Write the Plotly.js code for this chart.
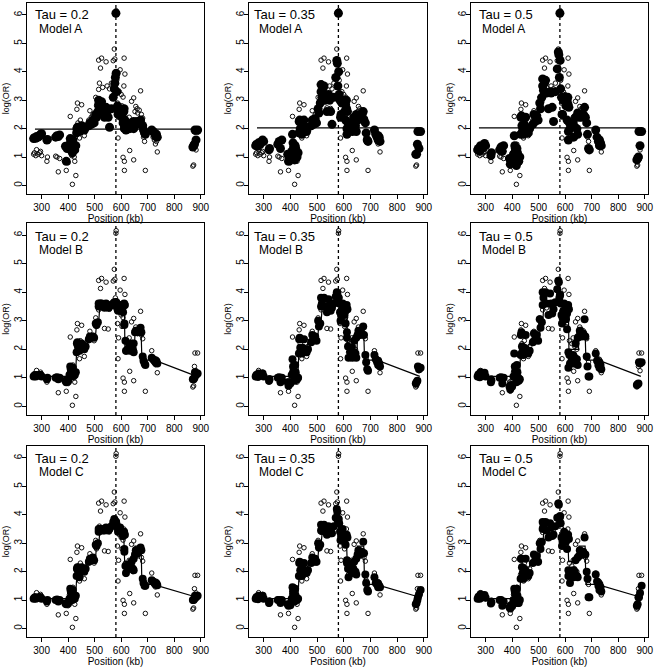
<!DOCTYPE html>
<html>
<head>
<meta charset="utf-8">
<script src="https://cdn.plot.ly/plotly-3.0.1.min.js"></script>
<style>html,body{margin:0;padding:0;background:#fff;}#chart{width:655px;height:668px;}</style>
</head>
<body>
<div id="chart"></div>
<script>
// Marker positions (kb) and observed log(OR) — shared by all panels (open circles)
const positions = [
  270,273,278,281,287,293,296,300,320,322,
  353,358,363,368,390,393,396,400,
  405,408,410,412,414,416,418,420,423,425,429,
  432,433,435,437,440,443,446,451,455,461,466,
  478,482,487,493,498,504,507,512,515,515,518,522,526,530,
  537,543,547,551,556,563,570,574,576,578,580,581,583,
  586,588,590,593,596,600,603,607,607,610,611,612,612,614,616,618,
  625,630,632,636,639,644,647,647,652,655,660,662,668,673,676,681,684,688,691,
  715,720,725,729,729,733,736,
  870,873,876,878,882,888
];
const observed = [
  1.10,1.15,1.05,1.26,1.10,1.15,1.20,1.05,0.85,1.00,
  1.03,1.00,0.48,0.95,0.85,0.53,0.88,0.80,
  1.20,2.43,1.40,1.30,1.05,0.04,1.45,1.20,1.00,0.85,0.35,
  1.90,2.68,2.90,2.20,2.00,1.67,2.30,2.84,2.00,1.75,2.10,
  2.30,2.63,2.40,2.49,2.30,3.10,2.80,2.95,3.38,4.41,3.60,4.13,4.48,3.45,
  2.73,4.35,3.50,2.71,3.40,3.60,4.39,4.80,4.45,3.80,6.06,6.15,3.70,
  2.90,1.67,2.40,3.30,4.07,3.20,2.80,3.11,0.99,3.50,4.48,0.85,0.53,3.92,2.30,1.90,
  2.20,2.40,1.23,2.10,2.96,2.00,3.08,0.90,2.60,2.78,2.70,2.55,2.65,3.33,2.50,2.37,1.70,1.55,0.53,
  1.95,1.70,1.60,1.65,1.46,1.55,1.18,
  0.68,0.72,1.40,1.87,1.25,1.87
];

// Fitted values (filled circles), one array per panel
const fitA_tau020 = [
  1.65,1.68,1.66,1.72,1.70,1.75,1.80,1.82,1.60,1.62,
  1.70,1.75,1.72,1.78,1.38,0.85,1.30,1.40,
  1.35,1.65,1.55,1.45,1.30,1.15,1.60,1.45,1.35,1.25,1.40,
  1.85,2.00,2.05,1.95,2.00,1.90,2.05,2.10,2.00,1.95,2.05,
  2.10,2.20,2.15,2.30,2.20,2.50,2.40,2.60,2.85,3.00,2.70,2.90,2.95,2.55,
  2.40,2.75,2.60,2.40,2.05,2.70,3.10,3.40,3.60,3.80,6.06,3.95,3.30,
  2.80,2.50,2.60,2.70,2.65,2.50,2.40,2.35,2.20,2.60,2.70,2.10,2.00,2.30,2.00,1.95,
  2.05,2.10,2.00,2.05,2.20,2.10,2.25,2.00,2.15,2.20,2.25,2.15,2.20,2.30,2.15,2.10,1.95,1.85,1.80,
  1.95,1.90,1.85,1.80,1.75,1.80,1.70,
  1.35,1.40,1.45,1.95,1.60,1.95
];
const fitA_tau035 = [
  1.40,1.45,1.38,1.50,1.45,1.55,1.60,1.55,1.25,1.30,
  1.45,1.55,1.30,1.60,1.10,0.85,1.00,0.95,
  1.20,1.80,1.50,1.35,1.10,0.90,1.40,1.30,1.05,1.00,1.15,
  1.85,2.25,2.30,2.00,1.95,1.80,2.10,2.30,2.00,1.90,2.05,
  2.10,2.30,2.15,2.35,2.20,2.70,2.55,2.90,3.30,3.55,3.10,3.40,3.50,3.00,
  2.60,3.20,3.00,2.60,2.15,3.10,3.80,4.40,4.30,3.50,6.06,4.00,3.20,
  3.00,2.40,2.50,2.90,3.00,2.90,2.60,2.85,2.30,3.00,2.70,2.00,1.80,2.60,2.20,2.00,
  2.10,2.20,1.90,2.05,2.40,2.10,2.50,1.90,2.30,2.40,2.45,2.35,2.40,2.60,2.30,2.20,1.85,1.60,1.55,
  1.95,1.80,1.70,1.75,1.60,1.70,1.55,
  1.10,1.10,1.45,1.90,1.30,1.90
];
const fitA_tau050 = [
  1.25,1.30,1.22,1.40,1.30,1.40,1.48,1.40,1.05,1.15,
  1.25,1.35,1.20,1.40,0.95,0.75,0.90,0.85,
  1.10,1.75,1.40,1.30,1.00,0.70,1.30,1.15,0.95,0.85,1.00,
  1.80,2.40,2.45,2.10,2.00,1.80,2.15,2.40,1.95,1.85,2.00,
  2.15,2.50,2.25,2.45,2.30,2.90,2.70,3.10,3.50,3.75,3.35,3.60,3.70,3.25,
  2.70,3.30,3.25,2.75,2.25,3.30,4.10,4.70,4.60,3.80,6.06,4.40,3.40,
  3.10,2.50,2.50,3.00,3.10,3.05,2.80,3.00,2.30,3.10,2.85,1.90,1.60,2.75,2.20,2.00,
  2.10,2.20,1.70,2.05,2.40,2.00,2.55,1.80,2.40,2.50,2.50,2.40,2.50,2.75,2.40,2.20,1.80,1.30,1.25,
  1.95,1.70,1.55,1.60,1.40,1.50,1.40,
  0.90,0.95,1.00,1.90,1.40,1.90
];
const fitB_tau020 = [
  1.05,1.08,1.05,1.10,1.08,1.10,1.10,1.05,0.95,1.00,
  1.00,1.02,0.95,1.00,0.90,0.85,0.90,0.88,
  1.10,1.40,1.30,1.25,1.15,1.05,1.35,1.20,1.15,1.10,1.20,
  1.90,2.20,2.25,2.10,2.05,1.95,2.15,2.20,2.05,2.00,2.10,
  2.35,2.45,2.40,2.45,2.40,2.90,2.85,2.95,3.50,3.60,3.55,3.60,3.60,3.50,
  3.45,3.60,3.55,3.45,3.50,3.55,3.60,3.65,3.60,3.55,3.65,3.65,3.50,
  3.40,3.35,3.40,3.50,3.55,3.50,3.45,3.50,3.30,3.55,3.60,2.90,2.85,3.55,2.30,1.95,
  2.00,2.10,1.95,2.05,2.20,2.00,2.20,1.90,2.60,2.65,2.65,2.60,2.65,2.75,2.60,1.75,1.60,1.50,1.45,
  1.70,1.65,1.60,1.62,1.55,1.58,1.50,
  0.95,0.95,1.00,1.20,1.10,1.15
];
const fitB_tau035 = [
  1.05,1.10,1.03,1.15,1.08,1.12,1.15,1.05,0.90,0.95,
  1.00,1.02,0.85,1.00,0.85,0.72,0.85,0.80,
  1.10,1.65,1.40,1.25,1.05,0.90,1.45,1.20,1.05,0.95,1.00,
  1.85,2.35,2.40,2.05,1.95,1.85,2.05,2.35,1.95,1.90,2.00,
  2.25,2.50,2.35,2.45,2.30,3.00,2.80,2.90,3.50,3.80,3.60,3.75,3.80,3.50,
  3.30,3.75,3.55,3.35,3.45,3.60,3.85,4.00,3.95,3.70,3.80,3.80,3.60,
  3.30,3.00,3.20,3.40,3.60,3.35,3.20,3.35,2.90,3.45,3.55,2.60,2.40,3.40,2.10,1.70,
  1.90,2.05,1.70,1.90,2.30,1.85,2.40,1.70,2.50,2.65,2.60,2.50,2.55,2.80,2.50,1.80,1.55,1.30,1.25,
  1.80,1.65,1.55,1.60,1.45,1.50,1.40,
  0.80,0.85,0.90,1.40,1.30,1.35
];
const fitB_tau050 = [
  1.05,1.12,1.02,1.20,1.08,1.15,1.18,1.05,0.85,0.92,
  1.00,1.02,0.80,1.00,0.70,0.60,0.75,0.70,
  1.05,1.85,1.40,1.25,1.00,0.85,1.45,1.20,1.00,0.90,0.95,
  1.80,2.50,2.60,2.10,1.95,1.80,2.05,2.50,1.90,1.85,1.95,
  2.25,2.55,2.35,2.50,2.30,3.05,2.75,2.95,3.55,4.00,3.80,3.95,4.00,3.60,
  3.20,3.95,3.60,3.25,3.40,3.65,4.10,4.40,4.35,3.80,3.90,3.90,3.60,
  3.20,2.90,3.10,3.35,3.60,3.30,3.05,3.25,2.70,3.45,3.55,1.90,1.35,3.40,1.80,1.50,
  1.65,1.80,1.50,1.70,2.20,1.65,2.40,1.45,2.45,2.65,2.55,2.45,2.55,3.05,2.45,1.75,1.40,1.05,1.05,
  1.85,1.60,1.45,1.55,1.35,1.45,1.30,
  0.75,0.78,0.80,1.55,1.50,1.55
];
const fitC_tau020 = [
  1.05,1.08,1.05,1.10,1.08,1.10,1.10,1.05,0.95,1.00,
  1.00,1.02,0.95,1.00,0.88,0.85,0.90,0.88,
  1.05,1.40,1.30,1.25,1.15,1.00,1.35,1.20,1.10,1.05,1.15,
  1.85,2.10,2.15,2.05,2.00,1.80,2.10,2.15,2.05,2.00,2.10,
  2.35,2.45,2.40,2.50,2.40,2.95,2.90,3.00,3.40,3.50,3.45,3.50,3.50,3.45,
  3.45,3.55,3.50,3.45,3.50,3.60,3.75,3.85,3.80,3.70,3.75,3.75,3.65,
  3.55,3.40,3.45,3.50,3.55,3.40,3.35,3.35,3.25,3.35,3.40,2.80,2.70,3.30,2.20,1.95,
  2.15,2.25,2.10,2.20,2.35,2.10,2.45,2.05,2.60,2.75,2.70,2.65,2.75,2.85,2.75,1.75,1.60,1.50,1.50,
  1.70,1.65,1.60,1.62,1.55,1.58,1.52,
  1.00,1.00,1.05,1.15,1.10,1.15
];
const fitC_tau035 = [
  1.05,1.10,1.03,1.15,1.08,1.12,1.15,1.05,0.90,0.95,
  1.00,1.00,0.90,1.00,0.85,0.80,0.85,0.82,
  1.05,1.45,1.30,1.20,1.05,0.95,1.40,1.15,1.05,1.00,1.05,
  1.85,2.30,2.35,2.05,1.95,1.85,2.10,2.30,2.00,1.95,2.05,
  2.30,2.50,2.35,2.45,2.35,3.00,2.85,2.95,3.45,3.65,3.50,3.60,3.65,3.40,
  3.30,3.60,3.50,3.35,3.35,3.60,3.90,4.20,4.10,3.80,3.85,3.85,3.70,
  3.40,3.10,3.25,3.40,3.50,3.30,3.15,3.20,2.95,3.25,3.30,2.40,2.30,3.20,2.10,1.80,
  2.05,2.20,1.95,2.10,2.35,2.00,2.45,1.90,2.60,2.75,2.70,2.60,2.70,3.05,2.65,1.90,1.60,1.35,1.30,
  1.80,1.60,1.55,1.58,1.45,1.50,1.45,
  0.85,0.90,1.00,1.10,1.20,1.35
];
const fitC_tau050 = [
  1.05,1.12,1.05,1.20,1.10,1.15,1.18,1.08,0.88,0.92,
  1.00,1.00,0.80,0.95,0.75,0.70,0.80,0.78,
  1.00,1.40,1.30,1.20,1.00,0.90,1.40,1.15,0.95,0.90,1.00,
  1.75,2.45,2.45,2.15,1.95,1.75,2.10,2.45,1.90,1.85,1.95,
  2.30,2.60,2.40,2.55,2.35,3.00,2.80,3.05,3.50,3.75,3.60,3.70,3.75,3.45,
  3.20,3.70,3.55,3.25,3.30,3.60,3.90,4.40,4.35,3.85,3.95,3.95,3.70,
  3.20,2.90,3.05,3.25,3.40,3.20,3.05,3.15,2.80,3.20,3.30,2.05,1.85,3.15,1.85,1.60,
  1.85,2.05,1.80,2.00,2.40,1.85,2.50,1.80,2.55,2.75,2.70,2.60,2.70,3.20,2.60,2.00,1.75,1.10,1.10,
  1.90,1.65,1.50,1.55,1.35,1.45,1.30,
  0.80,0.85,1.10,1.10,1.25,1.50
];

// Model mean curves
const modelALevel = [1.98, 2.03, 2.03];      // constant mean for Model A (per tau)
const modelASpan = [275, 890];
const modelBLineX = [270,405,428,432,460,470,503,507,515,520,612,614,650,652,675,678,725,885];
const modelBLineY = [1.05,1.05,1.05,1.95,2.05,2.35,2.45,2.90,2.95,3.55,3.55,2.00,2.00,2.62,2.62,1.62,1.62,1.05];
const modelCLineX = [270,405,428,432,460,470,503,507,515,520,545,580,610,613,650,652,675,678,720,885];
const modelCLineY = [1.05,1.05,1.05,1.75,2.05,2.35,2.45,2.90,2.95,3.45,3.50,3.85,3.15,2.35,2.35,2.90,2.90,1.55,1.55,1.10];

const peakPosition = 580;
const tauLabels = ['Tau = 0.2', 'Tau = 0.35', 'Tau = 0.5'];
const modelLabels = ['Model A', 'Model B', 'Model C'];
const xTicks = [300, 400, 500, 600, 700, 800, 900];
const yTicks = [0, 1, 2, 3, 4, 5, 6];

const fits = [
  [fitA_tau020, fitA_tau035, fitA_tau050],
  [fitB_tau020, fitB_tau035, fitB_tau050],
  [fitC_tau020, fitC_tau035, fitC_tau050]
];

// Layout geometry (pixels)
const W = 655, H = 668;
const colPx = [[27, 204], [249, 427], [471, 648]];
const rowPx = [[3, 194], [223, 415], [446, 637]];
const tauDx = [6, 3, 6], modelDx = [10, 8, 9];
const tauDy = [12, 13, 12], modelDy = [26, 27, 26];

const FONT = 'Liberation Sans, Arial, Helvetica, sans-serif';
const traces = [];
const layout = {
  width: W, height: H,
  margin: {l: 0, r: 0, t: 0, b: 0},
  paper_bgcolor: '#fff', plot_bgcolor: '#fff',
  showlegend: false,
  font: {family: FONT, color: '#000'},
  shapes: [], annotations: []
};

for (let r = 0; r < 3; r++) {
  for (let c = 0; c < 3; c++) {
    const n = r * 3 + c + 1;
    const xa = n === 1 ? 'x' : 'x' + n;
    const ya = n === 1 ? 'y' : 'y' + n;
    const xKey = n === 1 ? 'xaxis' : 'xaxis' + n;
    const yKey = n === 1 ? 'yaxis' : 'yaxis' + n;

    let lx, ly;
    if (r === 0) { lx = modelASpan; ly = [modelALevel[c], modelALevel[c]]; }
    else if (r === 1) { lx = modelBLineX; ly = modelBLineY; }
    else { lx = modelCLineX; ly = modelCLineY; }

    traces.push({
      x: positions, y: observed, xaxis: xa, yaxis: ya, type: 'scatter', mode: 'markers',
      marker: {symbol: 'circle-open', size: 4.5, color: '#111', line: {width: 1, color: '#111'}},
      hoverinfo: 'skip'
    });
    traces.push({
      x: positions, y: fits[r][c], xaxis: xa, yaxis: ya, type: 'scatter', mode: 'markers',
      marker: {symbol: 'circle', size: r === 0 ? 9 : 8, color: '#000'},
      hoverinfo: 'skip'
    });
    traces.push({
      x: lx, y: ly, xaxis: xa, yaxis: ya, type: 'scatter', mode: 'lines',
      line: {color: '#000', width: 1.2}, hoverinfo: 'skip'
    });

    const common = {
      showline: true, mirror: true, linecolor: '#000', linewidth: 1,
      ticks: 'outside', ticklen: 4, tickwidth: 1, tickcolor: '#000',
      showgrid: false, zeroline: false, automargin: false,
      ticklabeloverflow: 'allow',
      tickfont: {size: 10, color: '#000', family: FONT}
    };
    layout[xKey] = Object.assign({}, common, {
      domain: [colPx[c][0] / W, colPx[c][1] / W],
      anchor: ya, range: [245, 912], tickmode: 'array', tickvals: xTicks,
      title: {text: 'Position (kb)', font: {size: 10, color: '#000'}, standoff: 1}
    });
    layout[yKey] = Object.assign({}, common, {
      domain: [1 - rowPx[r][1] / H, 1 - rowPx[r][0] / H],
      anchor: xa, range: [-0.3, 6.42], tickmode: 'array', tickvals: yTicks,
      tickangle: -90, ticklabelstandoff: -4,
      title: {text: 'log(OR)', font: {size: 9, color: '#000'}, standoff: 1}
    });

    layout.shapes.push({
      type: 'line', xref: xa, yref: ya + ' domain',
      x0: peakPosition, x1: peakPosition, y0: 0, y1: 1,
      line: {color: '#000', width: 1.3, dash: 'dot'}
    });

    layout.annotations.push({
      xref: 'paper', yref: 'paper', showarrow: false,
      x: (colPx[c][0] + tauDx[c]) / W, y: 1 - (rowPx[r][0] + tauDy[r]) / H,
      xanchor: 'left', yanchor: 'middle',
      text: tauLabels[c], font: {size: 13, color: '#000', family: FONT}
    });
    layout.annotations.push({
      xref: 'paper', yref: 'paper', showarrow: false,
      x: (colPx[c][0] + modelDx[c]) / W, y: 1 - (rowPx[r][0] + modelDy[r]) / H,
      xanchor: 'left', yanchor: 'middle',
      text: modelLabels[r], font: {size: 12, color: '#000', family: FONT}
    });
  }
}

Plotly.newPlot('chart', traces, layout, {staticPlot: true, displayModeBar: false});
</script>
</body>
</html>
